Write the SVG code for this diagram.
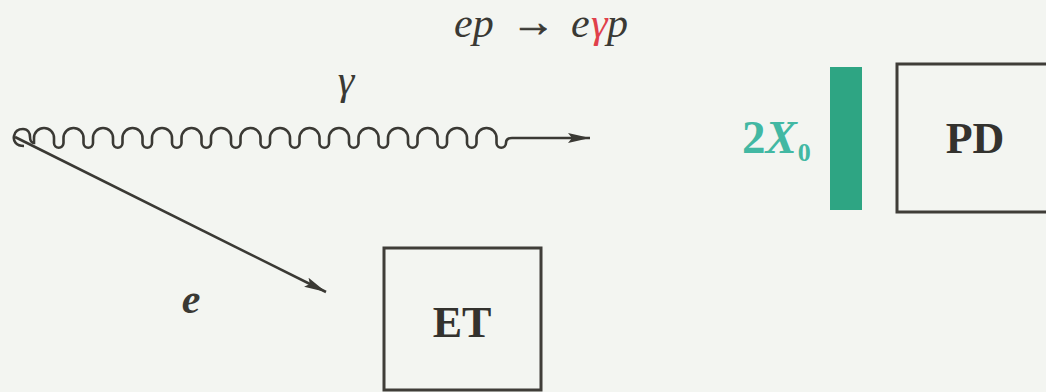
<svg xmlns="http://www.w3.org/2000/svg" width="1046" height="392" viewBox="0 0 1046 392">
<style>
.bg{fill:#f3f5f1}
.box{fill:none;stroke:#3f3d38;stroke-width:3}
.lbl{font-family:"Liberation Serif",serif;font-weight:bold;font-size:44px;fill:#33322e;text-anchor:middle}
.math{font-family:"Liberation Serif",serif;font-style:italic;font-size:42px;fill:#3a3934}
.line{fill:none;stroke:#3a3934;stroke-width:2.6}
</style>
<defs>
<marker id="arr" markerUnits="userSpaceOnUse" markerWidth="24" markerHeight="12" refX="22" refY="5" orient="auto">
<path d="M0,0 L22,5 L0,10 L4,5 z" fill="#3a3934"/>
</marker>
</defs>
<rect class="bg" x="0" y="0" width="1046" height="392"/>
<g id="title">
<text class="math" y="37"><tspan x="454">ep</tspan><tspan x="571">e</tspan><tspan x="591" fill="#e0404a">γ</tspan><tspan x="607">p</tspan></text>
<text class="math" x="511" y="36" font-style="normal" font-size="36" stroke="#3a3934" stroke-width="0.8" textLength="44" lengthAdjust="spacingAndGlyphs">→</text>
</g>
<g id="connectors">
<path id="photon" class="line" stroke-width="2.8" marker-end="url(#arr)" d="M24,146 C16,146 13,141 14,136 C15,131 19,129 23,129 C28,129 30,133 30,137 C30,141 32,143 34,143 v-5 a10,10 0 0 1 20,0 v5 a4.75,4.75 0 0 0 9.5,0 v-5 a10,10 0 0 1 20,0 v5 a4.75,4.75 0 0 0 9.5,0 v-5 a10,10 0 0 1 20,0 v5 a4.75,4.75 0 0 0 9.5,0 v-5 a10,10 0 0 1 20,0 v5 a4.75,4.75 0 0 0 9.5,0 v-5 a10,10 0 0 1 20,0 v5 a4.75,4.75 0 0 0 9.5,0 v-5 a10,10 0 0 1 20,0 v5 a4.75,4.75 0 0 0 9.5,0 v-5 a10,10 0 0 1 20,0 v5 a4.75,4.75 0 0 0 9.5,0 v-5 a10,10 0 0 1 20,0 v5 a4.75,4.75 0 0 0 9.5,0 v-5 a10,10 0 0 1 20,0 v5 a4.75,4.75 0 0 0 9.5,0 v-5 a10,10 0 0 1 20,0 v5 a4.75,4.75 0 0 0 9.5,0 v-5 a10,10 0 0 1 20,0 v5 a4.75,4.75 0 0 0 9.5,0 v-5 a10,10 0 0 1 20,0 v5 a4.75,4.75 0 0 0 9.5,0 v-5 a10,10 0 0 1 20,0 v5 a4.75,4.75 0 0 0 9.5,0 v-5 a10,10 0 0 1 20,0 v5 a4.75,4.75 0 0 0 9.5,0 v-5 a10,10 0 0 1 20,0 v5 a4.75,4.75 0 0 0 9.5,0 v-5 a10,10 0 0 1 20,0 v5 a4.75,4.75 0 0 0 9.5,0 c0,-3 2,-5 6,-5 L590,138"/>
<line id="electron" class="line" x1="15" y1="137" x2="326" y2="292" marker-end="url(#arr)"/>
<text class="math" x="346" y="94" text-anchor="middle">γ</text>
<text class="math" x="191" y="313" text-anchor="middle" font-weight="bold">e</text>
</g>
<g id="absorber">
<rect x="830" y="67" width="32" height="143" fill="#2ea583"/>
<text y="153" font-family="Liberation Serif,serif" font-weight="bold" font-size="47" fill="#42b8a3"><tspan x="742">2</tspan><tspan font-style="italic">X</tspan><tspan dx="1" y="161" font-size="26">0</tspan></text>
</g>
<g id="ET">
<rect class="box" x="384" y="248" width="157" height="142"/>
<text class="lbl" x="462" y="337">ET</text>
</g>
<g id="PD">
<rect class="box" x="897" y="64" width="160" height="148"/>
<text class="lbl" x="975" y="153">PD</text>
</g>
</svg>
